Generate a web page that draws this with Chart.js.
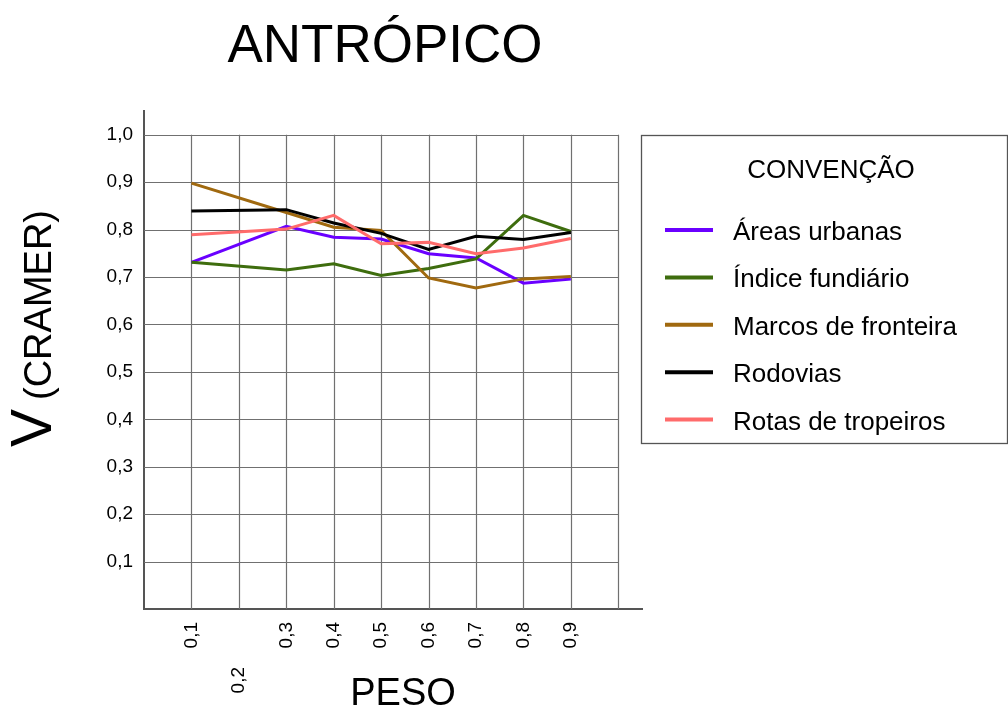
<!DOCTYPE html>
<html>
<head>
<meta charset="utf-8">
<script src="https://cdn.jsdelivr.net/npm/chart.js@4.4.1/dist/chart.umd.min.js"></script>
<style>
  html, body { margin: 0; padding: 0; background: #fff; }
  #wrap { width: 1008px; height: 707px; }
</style>
</head>
<body>
<div id="wrap"><canvas id="chart" width="1008" height="707"></canvas></div>
<script>
// pesos with data (0,2 has a tick label but no points)
const pesos = [0.1, 0.3, 0.4, 0.5, 0.6, 0.7, 0.8, 0.9];

const xTickValues = [0.1, 0.2, 0.3, 0.4, 0.5, 0.6, 0.7, 0.8, 0.9];
const xTickLabels = ['0,1', '0,2', '0,3', '0,4', '0,5', '0,6', '0,7', '0,8', '0,9'];
const yTickValues = [0.1, 0.2, 0.3, 0.4, 0.5, 0.6, 0.7, 0.8, 0.9, 1.0];
const yTickLabels = ['0,1', '0,2', '0,3', '0,4', '0,5', '0,6', '0,7', '0,8', '0,9', '1,0'];

const seriesNames = ['Áreas urbanas', 'Índice fundiário', 'Marcos de fronteira', 'Rodovias', 'Rotas de tropeiros'];
const areasUrbanas     = [0.731, 0.807, 0.784, 0.780, 0.749, 0.740, 0.687, 0.696];
const indiceFundiario  = [0.731, 0.715, 0.728, 0.703, 0.718, 0.738, 0.830, 0.796];
const marcosFronteira  = [0.898, 0.836, 0.805, 0.798, 0.698, 0.677, 0.696, 0.701];
const rodovias         = [0.839, 0.842, 0.814, 0.792, 0.758, 0.786, 0.779, 0.794];
const rotasTropeiros   = [0.789, 0.801, 0.830, 0.770, 0.773, 0.749, 0.761, 0.781];

const seriesColors = ['#6a00ff', '#3e6d0e', '#a0690f', '#000000', '#ff6b6b'];
const allSeries = [areasUrbanas, indiceFundiario, marcosFronteira, rodovias, rotasTropeiros];

const FONT = '"Liberation Sans", Arial, Helvetica, sans-serif';
const droppedTick = 0.2;   // label pushed down a row in the original

const datasets = allSeries.map((vals, i) => ({
  label: seriesNames[i],
  data: vals.map((v, j) => ({ x: pesos[j], y: v })),
  borderColor: seriesColors[i],
  backgroundColor: seriesColors[i],
  borderWidth: 3,
  pointRadius: 0,
  tension: 0,
  fill: false,
  order: allSeries.length - i   // last series drawn on top
}));

const decorPlugin = {
  id: 'decor',
  beforeDatasetsDraw(chart) {
    const { ctx, scales: { x, y } } = chart;
    ctx.save();
    ctx.strokeStyle = '#707070';
    ctx.lineWidth = 1.2;
    const x0 = x.getPixelForValue(0), x1 = x.getPixelForValue(1.0);
    const y0 = y.getPixelForValue(0), y1 = y.getPixelForValue(1.0);
    for (const v of yTickValues) {
      const py = Math.round(y.getPixelForValue(v)) + 0.5;
      ctx.beginPath(); ctx.moveTo(x0, py); ctx.lineTo(x1, py); ctx.stroke();
    }
    for (const v of [...xTickValues, 1.0]) {
      const px = Math.round(x.getPixelForValue(v)) + 0.5;
      ctx.beginPath(); ctx.moveTo(px, y1); ctx.lineTo(px, y0); ctx.stroke();
    }
    ctx.restore();
  },
  afterDraw(chart) {
    const { ctx, scales: { x } } = chart;
    ctx.save();
    ctx.fillStyle = '#000';

    // title
    ctx.font = '53px ' + FONT;
    ctx.textAlign = 'center';
    ctx.textBaseline = 'alphabetic';
    ctx.fillText('ANTRÓPICO', 385, 62);

    // x tick labels, rotated
    ctx.font = '19px ' + FONT;
    xTickValues.forEach((v, i) => {
      const px = x.getPixelForValue(v);
      const top = v === droppedTick ? 667 : 622;
      ctx.save();
      ctx.translate(px, top);
      ctx.rotate(-Math.PI / 2);
      ctx.textAlign = 'right';
      ctx.textBaseline = 'middle';
      ctx.fillText(xTickLabels[i], 0, 0);
      ctx.restore();
    });

    // x title
    ctx.font = '38px ' + FONT;
    ctx.textAlign = 'center';
    ctx.textBaseline = 'alphabetic';
    ctx.fillText('PESO', 403, 705);

    // y title: big V + (CRAMER)
    ctx.save();
    ctx.translate(51, 447);
    ctx.rotate(-Math.PI / 2);
    ctx.textAlign = 'left';
    ctx.textBaseline = 'alphabetic';
    ctx.font = '57px ' + FONT;
    ctx.fillText('V', 0, 0);
    const wV = ctx.measureText('V').width;
    ctx.font = '38px ' + FONT;
    ctx.fillText('(CRAMER)', wV + 9, 0);
    ctx.restore();

    // legend box
    ctx.strokeStyle = '#555';
    ctx.lineWidth = 1.3;
    ctx.strokeRect(641.5, 135.5, 366, 308);
    ctx.font = '26px ' + FONT;
    ctx.textAlign = 'center';
    ctx.fillText('CONVENÇÃO', 831, 178);
    ctx.textAlign = 'left';
    chart.data.datasets.forEach((ds, i) => {
      const ly = 230 + i * 47.4;
      ctx.strokeStyle = ds.borderColor;
      ctx.lineWidth = 4;
      ctx.beginPath(); ctx.moveTo(665, ly); ctx.lineTo(713, ly); ctx.stroke();
      ctx.fillStyle = '#000';
      ctx.fillText(ds.label, 733, ly + 10);
    });
    ctx.restore();
  }
};

new Chart(document.getElementById('chart'), {
  type: 'line',
  data: { datasets },
  options: {
    responsive: false,
    animation: false,
    layout: { padding: { left: 0, right: 366, top: 111, bottom: 0 } },
    plugins: { legend: { display: false }, tooltip: { enabled: false }, title: { display: false } },
    scales: {
      x: {
        type: 'linear',
        min: 0,
        max: 1.05,
        grid: { display: false, drawTicks: false },
        border: { display: true, color: '#555', width: 2 },
        ticks: { display: false },
        afterFit(scale) { scale.height = 98; }
      },
      y: {
        type: 'linear',
        min: 0,
        max: 1.05,
        grid: { display: false, drawTicks: false },
        border: { display: true, color: '#555', width: 2 },
        afterBuildTicks(scale) { scale.ticks = yTickValues.map(v => ({ value: v })); },
        ticks: {
          padding: 11,
          color: '#000',
          font: { family: FONT, size: 19 },
          callback: (v) => {
            const i = yTickValues.findIndex(t => Math.abs(t - v) < 1e-6);
            return i >= 0 ? yTickLabels[i] : '';
          }
        },
        afterFit(scale) { scale.width = 144; }
      }
    }
  },
  plugins: [decorPlugin]
});
</script>
</body>
</html>
